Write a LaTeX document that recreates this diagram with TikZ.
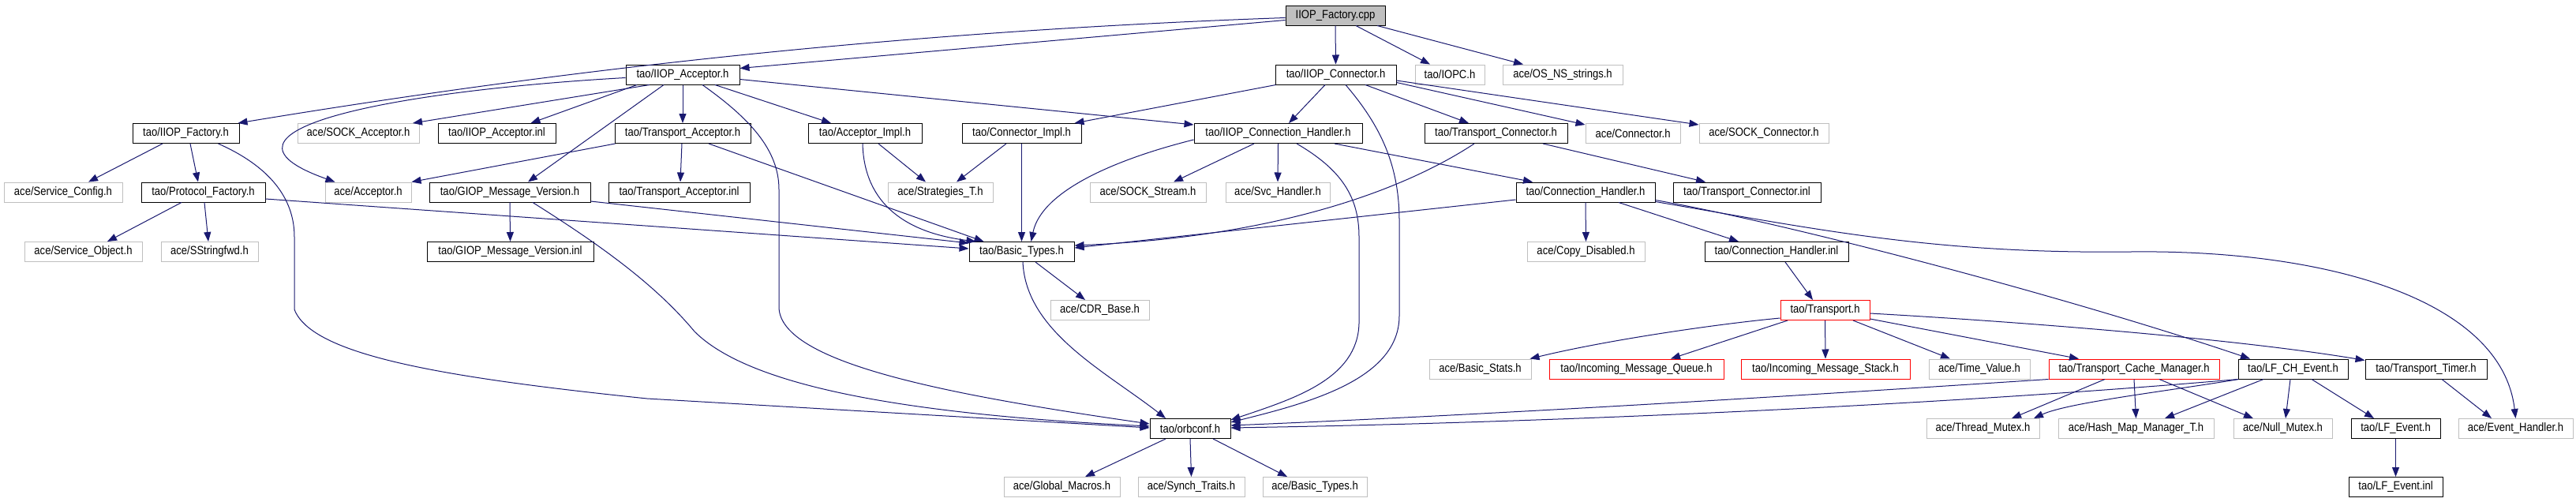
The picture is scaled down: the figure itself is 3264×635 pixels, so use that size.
\documentclass[tikz,border=0pt]{standalone}
\usepackage{fontspec}
\setmainfont{Liberation Sans}[FakeStretch=0.87]
\usetikzlibrary{arrows.meta}
\definecolor{edgeblue}{HTML}{191970}
\definecolor{extgray}{HTML}{BFBFBF}
\definecolor{truncred}{HTML}{FF0000}
\begin{document}
\begin{tikzpicture}[x=1pt,y=-1pt,
  box/.style={draw=black, line width=1pt, inner sep=0pt, minimum height=25pt, font=\fontsize{15}{18}\selectfont, text=black},
  ext/.style={box, draw=extgray},
  trunc/.style={box, draw=truncred},
  root/.style={box, fill=extgray},
  e/.style={draw=edgeblue, line width=1pt, -{Triangle[length=12pt,width=9pt]}}]
\fill[white] (0,0) rectangle (3264,635);
\useasboundingbox (0,0) rectangle (3264,635);
% row 0
\node[root, minimum width=126pt] (cpp) at (1692,19.5) {IIOP\_Factory.cpp};
% row 1
\node[box, minimum width=144pt] (iacc) at (865,94.5) {tao/IIOP\_Acceptor.h};
\node[box, minimum width=153pt] (icon) at (1692.5,94.5) {tao/IIOP\_Connector.h};
\node[ext, minimum width=88pt] (iopc) at (1837,94.5) {tao/IOPC.h};
\node[ext, minimum width=152pt] (osns) at (1980,94.5) {ace/OS\_NS\_strings.h};
% row 2
\node[box, minimum width=135pt] (ifac) at (235.5,169) {tao/IIOP\_Factory.h};
\node[ext, minimum width=154pt] (sockacc) at (454,169) {ace/SOCK\_Acceptor.h};
\node[box, minimum width=149pt] (iaccinl) at (629.5,169) {tao/IIOP\_Acceptor.inl};
\node[box, minimum width=172pt] (tacc) at (865,169) {tao/Transport\_Acceptor.h};
\node[box, minimum width=144pt] (accimpl) at (1096,169) {tao/Acceptor\_Impl.h};
\node[box, minimum width=151pt] (conimpl) at (1294.5,169) {tao/Connector\_Impl.h};
\node[box, minimum width=213pt] (ich) at (1619.5,169) {tao/IIOP\_Connection\_Handler.h};
\node[box, minimum width=181pt] (tcon) at (1895.5,169) {tao/Transport\_Connector.h};
\node[ext, minimum width=120pt] (conn) at (2069,169) {ace/Connector.h};
\node[ext, minimum width=164pt] (sockcon) at (2235,169) {ace/SOCK\_Connector.h};
% row 3
\node[ext, minimum width=150pt] (svccfg) at (80,243.5) {ace/Service\_Config.h};
\node[box, minimum width=157pt] (pfac) at (257.5,243.5) {tao/Protocol\_Factory.h};
\node[ext, minimum width=109pt] (acc) at (466.5,243.5) {ace/Acceptor.h};
\node[box, minimum width=204pt] (gmv) at (646,243.5) {tao/GIOP\_Message\_Version.h};
\node[box, minimum width=179pt] (taccinl) at (860.5,243.5) {tao/Transport\_Acceptor.inl};
\node[ext, minimum width=133pt] (strat) at (1191.5,243.5) {ace/Strategies\_T.h};
\node[ext, minimum width=147pt] (sockstr) at (1454.5,243.5) {ace/SOCK\_Stream.h};
\node[ext, minimum width=132pt] (svch) at (1619,243.5) {ace/Svc\_Handler.h};
\node[box, minimum width=176pt] (ch) at (2009,243.5) {tao/Connection\_Handler.h};
\node[box, minimum width=187pt] (tconinl) at (2213.5,243.5) {tao/Transport\_Connector.inl};
% row 4
\node[ext, minimum width=149pt] (svcobj) at (105.5,319) {ace/Service\_Object.h};
\node[ext, minimum width=123pt] (sstr) at (265.5,319) {ace/SStringfwd.h};
\node[box, minimum width=211pt] (gmvinl) at (646.5,319) {tao/GIOP\_Message\_Version.inl};
\node[box, minimum width=133pt] (bt) at (1294.5,319) {tao/Basic\_Types.h};
\node[ext, minimum width=149pt] (copyd) at (2009.5,319) {ace/Copy\_Disabled.h};
\node[box, minimum width=182pt] (chinl) at (2251,319) {tao/Connection\_Handler.inl};
% row 5
\node[ext, minimum width=125pt] (cdr) at (1393.5,393) {ace/CDR\_Base.h};
\node[trunc, minimum width=113pt] (trans) at (2312.5,393) {tao/Transport.h};
% row 6
\node[ext, minimum width=129pt] (bstats) at (1875.5,467.5) {ace/Basic\_Stats.h};
\node[trunc, minimum width=221pt] (imq) at (2073.5,467.5) {tao/Incoming\_Message\_Queue.h};
\node[trunc, minimum width=214pt] (ims) at (2313,467.5) {tao/Incoming\_Message\_Stack.h};
\node[ext, minimum width=128pt] (tval) at (2508,467.5) {ace/Time\_Value.h};
\node[trunc, minimum width=216pt] (tcm) at (2704,467.5) {tao/Transport\_Cache\_Manager.h};
\node[box, minimum width=139pt] (lfch) at (2905.5,467.5) {tao/LF\_CH\_Event.h};
\node[box, minimum width=154pt] (ttimer) at (3074,467.5) {tao/Transport\_Timer.h};
% row 7
\node[box, minimum width=102pt] (orb) at (1508,543) {tao/orbconf.h};
\node[ext, minimum width=143pt] (tmutex) at (2512.5,543) {ace/Thread\_Mutex.h};
\node[ext, minimum width=197pt] (hmm) at (2706.5,543) {ace/Hash\_Map\_Manager\_T.h};
\node[ext, minimum width=125pt] (nmutex) at (2892.5,543) {ace/Null\_Mutex.h};
\node[box, minimum width=113pt] (lfev) at (3035.5,543) {tao/LF\_Event.h};
\node[ext, minimum width=145pt] (evh) at (3187.5,543) {ace/Event\_Handler.h};
% row 8
\node[ext, minimum width=147pt] (gmac) at (1345.5,617) {ace/Global\_Macros.h};
\node[ext, minimum width=135pt] (synch) at (1509.5,617) {ace/Synch\_Traits.h};
\node[ext, minimum width=132pt] (abt) at (1666,617) {ace/Basic\_Types.h};
\node[box, minimum width=119pt] (lfevinl) at (3035.5,617) {tao/LF\_Event.inl};

% edges from IIOP_Factory.cpp
\draw[e] ([yshift=-3pt]cpp.west) .. controls (1129,40) and (701,90) .. ([xshift=-2pt]ifac.north east);
\draw[e] ([yshift=-6pt]cpp.west) -- ([yshift=-5pt]iacc.north east);
\draw[e] (cpp.south) -- (icon.north);
\draw[e] ([xshift=26pt]cpp.south) -- ([xshift=-25pt]iopc.north);
\draw[e] ([xshift=53pt]cpp.south) -- ([xshift=-50pt]osns.north);
% IIOP_Acceptor.h
\draw[e] ([xshift=-42pt]iacc.south) -- ([xshift=69pt]sockacc.north);
\draw[e] ([xshift=-58pt]iacc.south) -- ([xshift=43pt]iaccinl.north);
\draw[e] (iacc.south) -- (tacc.north);
\draw[e] ([xshift=41pt]iacc.south) -- ([xshift=-43pt]accimpl.north);
\draw[e] ([xshift=-24pt]iacc.south) -- ([xshift=23pt]gmv.north);
\draw[e] ([yshift=-4pt]iacc.west) .. controls (500,115) and (240,165) .. ([xshift=-42pt]acc.north);
\draw[e] ([yshift=-6pt]iacc.east) -- ([yshift=-2pt]ich.north west);
\draw[e] ([xshift=25pt]iacc.south) .. controls (950,150) and (987,190) .. (987,240) -- (987,390) .. controls (990,460) and (1200,500) .. ([yshift=6pt]orb.west);
% GIOP_Message_Version.h
\draw[e] (gmv.south) -- (gmvinl.north);
\draw[e] ([yshift=1.5pt]gmv.south east) -- ([yshift=-2pt]bt.north west);
\draw[e] ([xshift=29pt]gmv.south) .. controls (760,310) and (830,360) .. (880,420) .. controls (950,490) and (1150,525) .. ([yshift=3pt]orb.west);
% IIOP_Factory.h
\draw[e] ([xshift=-29.5pt]ifac.south) -- ([xshift=32pt]svccfg.north);
\draw[e] ([xshift=5.5pt]ifac.south) -- ([xshift=-6.5pt]pfac.north);
\draw[e] ([xshift=41pt]ifac.south) .. controls (340,210) and (373,250) .. (373,300) -- (373,392) .. controls (395,450) and (560,478) .. (820,505) -- ([yshift=1pt]orb.west);
% Protocol_Factory.h
\draw[e] ([xshift=-27.5pt]pfac.south) -- ([xshift=30.5pt]svcobj.north);
\draw[e] ([xshift=1.5pt]pfac.south) -- ([xshift=-1.5pt]sstr.north);
\draw[e] ([yshift=-8.5pt]pfac.east) -- ([yshift=4pt]bt.west);
% Transport_Acceptor.h
\draw[e] ([xshift=1pt]tacc.south west) -- (acc.north east);
\draw[e] ([xshift=-1pt]tacc.south) -- ([xshift=1.5pt]taccinl.north);
\draw[e] ([xshift=33pt]tacc.south) -- ([xshift=-48pt]bt.north);
% Acceptor_Impl.h
\draw[e] ([xshift=17pt]accimpl.south) -- ([xshift=-18.5pt]strat.north);
\draw[e] ([xshift=-3pt]accimpl.south) .. controls (1095,260) and (1150,295) .. ([xshift=-58pt]bt.north);
% Connector_Impl.h
\draw[e] ([xshift=-19.5pt]conimpl.south) -- ([xshift=20.5pt]strat.north);
\draw[e] (conimpl.south) -- (bt.north);
% IIOP_Connector.h
\draw[e] ([xshift=1pt]icon.south west) -- ([xshift=-9pt]conimpl.north east);
\draw[e] ([xshift=-13.5pt]icon.south) -- ([xshift=13.5pt]ich.north);
\draw[e] ([xshift=37.5pt]icon.south) -- ([xshift=-34.5pt]tcon.north);
\draw[e] ([yshift=-10pt]icon.east) -- ([yshift=-2pt]conn.north west);
\draw[e] ([yshift=-7.5pt]icon.east) -- ([yshift=-2pt]sockcon.north west);
\draw[e] ([xshift=12.5pt]icon.south) .. controls (1750,160) and (1773,210) .. (1773,280) -- (1773,400) .. controls (1773,480) and (1660,510) .. ([yshift=8pt]orb.east);
% IIOP_Connection_Handler.h
\draw[e] ([xshift=-30.5pt]ich.south) -- ([xshift=32.5pt]sockstr.north);
\draw[e] (ich.south) -- (svch.north);
\draw[e] ([xshift=71.5pt]ich.south) -- ([xshift=-67pt]ch.north);
\draw[e] ([yshift=-8pt]ich.west) .. controls (1420,200) and (1320,240) .. ([xshift=12pt]bt.north);
\draw[e] ([xshift=23.5pt]ich.south) .. controls (1700,215) and (1722,250) .. (1722,300) -- (1722,410) .. controls (1720,480) and (1640,505) .. ([yshift=11pt]orb.east);
% Transport_Connector.h
\draw[e] ([xshift=-27.5pt]tcon.south) .. controls (1780,240) and (1620,300) .. ([yshift=8pt]bt.east);
\draw[e] ([xshift=59.5pt]tcon.south) -- ([xshift=-52.5pt]tconinl.north);
% Connection_Handler.h
\draw[e] ([yshift=-9.5pt]ch.west) -- ([yshift=5pt]bt.east);
\draw[e] (ch.south) -- (copyd.north);
\draw[e] ([xshift=42pt]ch.south) -- ([xshift=-48pt]chinl.north);
\draw[e] ([yshift=3pt]ch.south east) .. controls (2250,280) and (2600,370) .. ([xshift=-54.5pt]lfch.north);
\draw[e] ([yshift=1pt]ch.south east) .. controls (2300,290) and (2450,322) .. (2700,319) .. controls (2950,316) and (3170,380) .. (evh.north);
% Connection_Handler.inl
\draw[e] ([xshift=11pt]chinl.south) -- ([xshift=-15.5pt]trans.north);
% Transport.h
\draw[e] ([yshift=-10pt]trans.west) .. controls (2180,410) and (2040,430) .. ([xshift=-2pt]bstats.north east);
\draw[e] ([xshift=-47.5pt]trans.south) -- ([xshift=43.5pt]imq.north);
\draw[e] (trans.south) -- (ims.north);
\draw[e] ([xshift=35.5pt]trans.south) -- ([xshift=-37pt]tval.north);
\draw[e] ([yshift=2pt]trans.south east) -- ([xshift=-70pt]tcm.north);
\draw[e] ([yshift=-4pt]trans.east) .. controls (2600,410) and (2850,432) .. ([yshift=-2pt]ttimer.north west);
% Transport_Cache_Manager.h
\draw[e] (tcm.south west) .. controls (2300,500) and (1900,525) .. ([yshift=4pt]orb.east);
\draw[e] ([xshift=-37pt]tcm.south) -- ([xshift=36.5pt]tmutex.north);
\draw[e] (tcm.south) -- (hmm.north);
\draw[e] ([xshift=32pt]tcm.south) -- ([xshift=-37.5pt]nmutex.north);
% LF_CH_Event.h
\draw[e] (lfch.south west) .. controls (2500,510) and (2000,535) .. ([yshift=1pt]orb.east);
\draw[e] ([xshift=1pt]lfch.south west) .. controls (2750,495) and (2620,510) .. ([xshift=64.5pt]tmutex.north);
\draw[e] ([xshift=-37.5pt]lfch.south) -- ([xshift=36.5pt]hmm.north);
\draw[e] ([xshift=-3.5pt]lfch.south) -- ([xshift=3.5pt]nmutex.north);
\draw[e] ([xshift=23.5pt]lfch.south) -- ([xshift=-27.5pt]lfev.north);
% Transport_Timer.h
\draw[e] ([xshift=20pt]ttimer.south) -- ([xshift=-30.5pt]evh.north);
% LF_Event.h
\draw[e] (lfev.south) -- (lfevinl.north);
% Basic_Types.h
\draw[e] ([xshift=17.5pt]bt.south) -- ([xshift=-18.5pt]cdr.north);
\draw[e] ([xshift=1.5pt]bt.south) .. controls (1300,420) and (1400,470) .. ([xshift=-31pt]orb.north);
% orbconf.h
\draw[e] ([xshift=-31pt]orb.south) -- ([xshift=29.5pt]gmac.north);
\draw[e] (orb.south) -- (synch.north);
\draw[e] ([xshift=29pt]orb.south) -- ([xshift=-35pt]abt.north);
\end{tikzpicture}
\end{document}
